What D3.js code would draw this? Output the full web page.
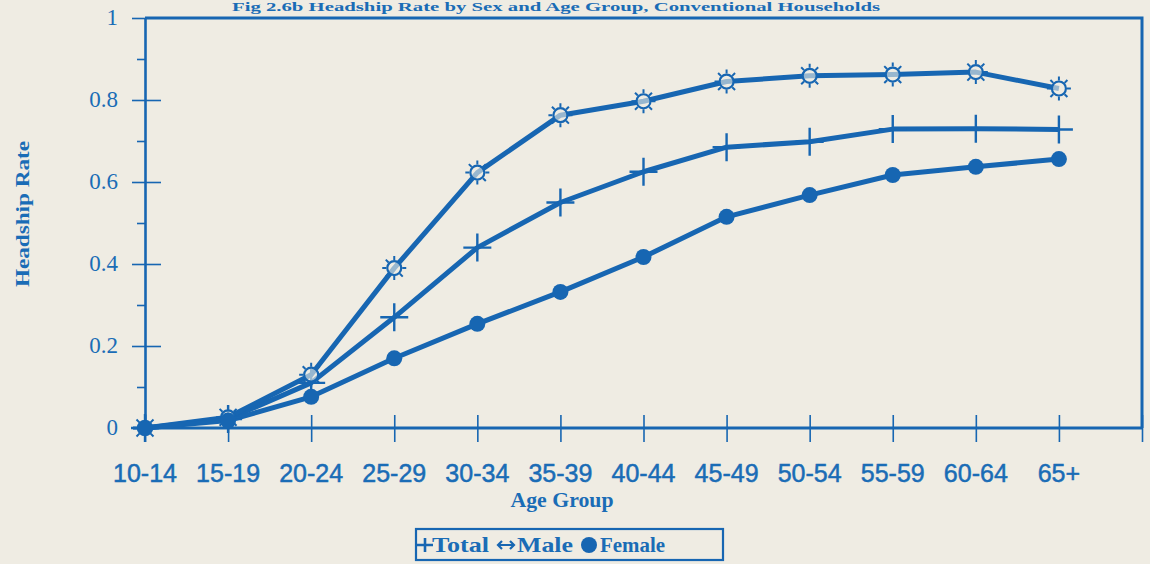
<!DOCTYPE html>
<html><head><meta charset="utf-8">
<script src="https://cdn.jsdelivr.net/npm/d3@7"></script>
<style>
html,body{margin:0;padding:0;background:#efece3;}
svg{display:block;}
</style></head>
<body>
<svg id="chart" width="1150" height="564"></svg>
<script>
const categories = ["10-14","15-19","20-24","25-29","30-34","35-39","40-44","45-49","50-54","55-59","60-64","65+"];
const totalValues  = [0, 0.022, 0.11, 0.27, 0.44, 0.55, 0.625, 0.685, 0.698, 0.729, 0.730, 0.728];
const maleValues   = [0, 0.026, 0.13, 0.39, 0.623, 0.763, 0.797, 0.845, 0.859, 0.862, 0.868, 0.828];
const femaleValues = [0, 0.018, 0.076, 0.17, 0.254, 0.332, 0.417, 0.515, 0.568, 0.617, 0.637, 0.656];
const yTickLabels = [0, 0.2, 0.4, 0.6, 0.8, 1];
const legendLabels = ["Total", "Male", "Female"];
const titleText = "Fig 2.6b Headship Rate by Sex and Age Group, Conventional Households";

const BLUE = "#1766b2";
const TXT = "#1a6cb6";
const svg = d3.select("#chart");

const x = d3.scaleLinear().domain([0, categories.length]).range([145, 1142]);
const y = d3.scaleLinear().domain([0, 1]).range([428, 18]);

// title (small, sits above the frame)
svg.append("text").attr("x", 556).attr("y", 11).attr("text-anchor", "middle")
  .attr("font-family", "Liberation Serif").attr("font-weight", "bold").attr("font-size", 13)
  .attr("textLength", 648).attr("lengthAdjust", "spacingAndGlyphs")
  .attr("fill", TXT).text(titleText);

// frame top & right
svg.append("path").attr("d", `M${x(0)},${y(1)}H${x(categories.length)}V${y(0)}`)
  .attr("fill", "none").attr("stroke", BLUE).attr("stroke-width", 3);

// y axis
const yAxis = d3.axisLeft(y).tickValues(d3.range(0, 1.01, 0.1)).tickSize(0).tickFormat("");
const yg = svg.append("g").attr("transform", `translate(${x(0)},0)`).call(yAxis);
yg.select(".domain").attr("stroke", BLUE).attr("stroke-width", 2.6);
yg.selectAll(".tick").each(function(d) {
  const t = d3.select(this);
  const r = Math.round(d * 10);
  let x1 = -8, x2 = 0;
  if (r % 2 === 0 && r > 0 && r < 10) { x1 = -13; x2 = 16; }
  if (r === 10) { x1 = -13; x2 = 0; }
  if (r === 0) { x1 = -12; x2 = 0; }
  t.append("line").attr("x1", x1).attr("x2", x2).attr("stroke", BLUE).attr("stroke-width", 1.6);
});
svg.append("g").selectAll("text").data(yTickLabels).join("text")
  .attr("x", 118).attr("y", d => y(d) + 7).attr("text-anchor", "end")
  .attr("font-family", "Liberation Serif").attr("font-size", 23).attr("fill", TXT)
  .text(d => d3.format("")(d));

// x axis
const xAxis = d3.axisBottom(x).tickValues(d3.range(0, categories.length + 1)).tickSize(0).tickFormat("");
const xg = svg.append("g").attr("transform", `translate(0,${y(0)})`).call(xAxis);
xg.select(".domain").remove();
xg.append("line").attr("x1", 133).attr("x2", x(categories.length)).attr("stroke", BLUE).attr("stroke-width", 3);
xg.selectAll(".tick").append("line").attr("y1", -13).attr("y2", 14).attr("stroke", BLUE).attr("stroke-width", 1.6);
svg.append("g").selectAll("text").data(categories).join("text")
  .attr("x", (d, i) => x(i)).attr("y", 482).attr("text-anchor", "middle")
  .attr("font-family", "Liberation Sans").attr("font-size", 25).attr("fill", TXT)
  .attr("stroke", TXT).attr("stroke-width", 0.5)
  .text(d => d);

// axis titles
svg.append("text").attr("x", 562).attr("y", 507).attr("text-anchor", "middle")
  .attr("font-family", "Liberation Serif").attr("font-weight", "bold").attr("font-size", 21)
  .attr("textLength", 103).attr("lengthAdjust", "spacingAndGlyphs")
  .attr("fill", TXT).text("Age Group");
svg.append("text").attr("transform", "translate(29,214) rotate(-90)").attr("text-anchor", "middle")
  .attr("font-family", "Liberation Serif").attr("font-weight", "bold").attr("font-size", 19)
  .attr("textLength", 146).attr("lengthAdjust", "spacingAndGlyphs")
  .attr("fill", TXT).text("Headship Rate");

// lines
const line = d3.line().x((d, i) => x(i)).y(d => y(d)).curve(d3.curveLinear);
const series = [
  {name: "Total", values: totalValues},
  {name: "Male", values: maleValues},
  {name: "Female", values: femaleValues}
];
svg.append("g").selectAll("path").data(series).join("path")
  .attr("d", d => line(d.values)).attr("fill", "none").attr("stroke", BLUE)
  .attr("stroke-width", 5).attr("stroke-linejoin", "round");

// markers
function plus(g, s) {
  g.append("path").attr("d", `M${-s},0H${s}M0,${-s}V${s}`).attr("stroke", BLUE).attr("stroke-width", 2.4).attr("fill", "none");
}
function sun(g, r) {
  g.append("circle").attr("r", r).attr("fill", "#efece3").attr("fill-opacity", 0.6).attr("stroke", BLUE).attr("stroke-width", 2.2);
  let d = "";
  for (let k = 0; k < 8; k++) {
    const a = k * Math.PI / 4;
    d += `M${(r + 1) * Math.cos(a)},${(r + 1) * Math.sin(a)}L${(r + 5) * Math.cos(a)},${(r + 5) * Math.sin(a)}`;
  }
  g.append("path").attr("d", d).attr("stroke", BLUE).attr("stroke-width", 2);
}
svg.append("g").selectAll("g").data(totalValues).join("g")
  .attr("transform", (d, i) => `translate(${x(i)},${y(d)})`).each(function() { plus(d3.select(this), 14); });
svg.append("g").selectAll("g").data(maleValues).join("g")
  .attr("transform", (d, i) => `translate(${x(i)},${y(d)})`).each(function() { sun(d3.select(this), 7); });
svg.append("g").selectAll("circle").data(femaleValues).join("circle")
  .attr("cx", (d, i) => x(i)).attr("cy", d => y(d)).attr("r", 8).attr("fill", BLUE);

// legend
const lg = svg.append("g");
lg.append("rect").attr("x", 416).attr("y", 529).attr("width", 307).attr("height", 31)
  .attr("fill", "none").attr("stroke", BLUE).attr("stroke-width", 2.2);
const lx = [432, 517, 600];
const lw = [57, 56, 65];
lg.selectAll("text").data(legendLabels).join("text")
  .attr("x", (d, i) => lx[i]).attr("y", 552)
  .attr("textLength", (d, i) => lw[i]).attr("lengthAdjust", "spacingAndGlyphs")
  .attr("font-family", "Liberation Serif").attr("font-weight", "bold").attr("font-size", 21)
  .attr("fill", TXT).text(d => d);
const s0 = lg.append("g").attr("transform", "translate(425,545)");
s0.append("path").attr("d", "M-8,0H8M0,-7V7").attr("stroke", BLUE).attr("stroke-width", 2.6);
const s1 = lg.append("g").attr("transform", "translate(506,545)");
s1.append("path").attr("d", "M-8,0H8M-4,-4L-8,0L-4,4M4,-4L8,0L4,4").attr("stroke", BLUE).attr("stroke-width", 2.2).attr("fill", "none");
lg.append("circle").attr("cx", 589).attr("cy", 545).attr("r", 8).attr("fill", BLUE);
</script>
</body></html>
